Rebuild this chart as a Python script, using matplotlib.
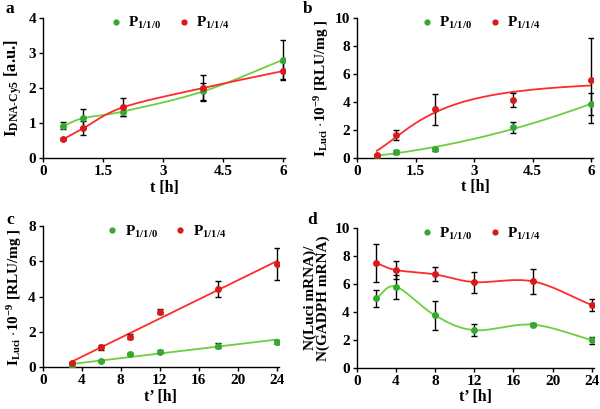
import numpy as np
import matplotlib
matplotlib.use("Agg")
import matplotlib.pyplot as plt

# ── data ──────────────────────────────────────────────────────
t_a = [0.5, 1, 2, 4, 6]
a_p0 = [0.92, 1.14, 1.33, 1.90, 2.80]
a_p0_err = [0.10, 0.25, 0.12, 0.24, 0.56]
a_p4 = [0.54, 0.85, 1.45, 2.00, 2.48]
a_p4_err = [0.03, 0.20, 0.25, 0.36, 0.25]

t_b = [0.5, 1, 2, 4, 6]
b_p0 = [0.15, 0.43, 0.62, 2.17, 3.83]
b_p0_err = [0.05, 0.15, 0.10, 0.40, 0.78]
b_p4 = [0.17, 1.64, 3.46, 4.12, 5.55]
b_p4_err = [0.05, 0.35, 1.10, 0.52, 3.03]

t_c = [3, 6, 9, 12, 18, 24]
c_p0 = [0.02, 0.34, 0.76, 0.89, 1.23, 1.44]
c_p0_err = [0.03, 0.05, 0.05, 0.10, 0.15, 0.12]
c_p4 = [0.23, 1.13, 1.74, 3.16, 4.44, 5.86]
c_p4_err = [0.05, 0.15, 0.15, 0.12, 0.45, 0.90]

t_d = [2, 4, 8, 12, 18, 24]
d_p0 = [4.98, 5.81, 3.76, 2.71, 3.10, 2.00]
d_p0_err = [0.60, 0.85, 1.05, 0.42, 0.10, 0.25]
d_p4 = [7.50, 7.00, 6.69, 6.14, 6.19, 4.50]
d_p4_err = [1.37, 0.67, 0.50, 0.75, 0.87, 0.45]

labels = [r"P$_{\mathregular{1/1/0}}$", r"P$_{\mathregular{1/1/4}}$"]

GREEN_M, GREEN_L = "#35a832", "#6ccf3c"
RED_M, RED_L = "#d81a1a", "#ff2a2a"

plt.rcParams["font.family"] = ["Liberation Serif", "DejaVu Serif"]
plt.rcParams["font.weight"] = "bold"
plt.rcParams["mathtext.fontset"] = "custom"
plt.rcParams["mathtext.rm"] = "Liberation Serif:bold"
plt.rcParams["mathtext.it"] = "Liberation Serif:bold"
plt.rcParams["mathtext.bf"] = "Liberation Serif:bold"


def smooth(x, y, n=40):
    # Catmull-Rom curve through the points (like a spreadsheet "smoothed line")
    x = np.asarray(x, float)
    y = np.asarray(y, float)
    px = np.concatenate([[2 * x[0] - x[1]], x, [2 * x[-1] - x[-2]]])
    py = np.concatenate([[2 * y[0] - y[1]], y, [2 * y[-1] - y[-2]]])
    xs, ys = [], []
    s = np.linspace(0, 1, n)
    for i in range(1, len(px) - 2):
        for p, out in ((px, xs), (py, ys)):
            p0, p1, p2, p3 = p[i - 1], p[i], p[i + 1], p[i + 2]
            out.append(0.5 * (2 * p1 + (-p0 + p2) * s
                              + (2 * p0 - 5 * p1 + 4 * p2 - p3) * s ** 2
                              + (-p0 + 3 * p1 - 3 * p2 + p3) * s ** 3))
    return np.concatenate(xs), np.concatenate(ys)


def fit(x, y, deg, n=200):
    c = np.polyfit(x, y, deg)
    xs = np.linspace(min(x), max(x), n)
    return xs, np.polyval(c, xs)


def hill_fit(x, y, n=200):
    # least-squares Hill curve y = V x^h / (K^h + x^h), grid over K and h
    x = np.asarray(x, float)
    y = np.asarray(y, float)
    best = None
    for K in np.linspace(0.5, 6, 111):
        for h in np.linspace(0.8, 4, 65):
            g = x ** h / (K ** h + x ** h)
            V = (g @ y) / (g @ g)
            r = np.sum((V * g - y) ** 2)
            if best is None or r < best[0]:
                best = (r, V, K, h)
    _, V, K, h = best
    xs = np.linspace(x.min(), x.max(), n)
    return xs, V * xs ** h / (K ** h + xs ** h)


def style(ax, xlim, xticks, ylim, yticks, xlabel, ylabel, ylsize=11):
    ax.set_xlim(*xlim)
    ax.set_ylim(*ylim)
    ax.set_xticks(xticks)
    ax.set_yticks(yticks)
    for s in ("top", "right"):
        ax.spines[s].set_visible(False)
    for s in ("left", "bottom"):
        ax.spines[s].set_linewidth(1.0)
    ax.tick_params(direction="out", length=3, width=1, labelsize=11, pad=2)
    ax.set_xlabel(xlabel, fontsize=11.5, fontweight="bold", labelpad=1)
    ax.set_ylabel(ylabel, fontsize=ylsize, fontweight="bold", labelpad=3)
    ax.legend(loc="upper center", bbox_to_anchor=(0.52, 1.115), ncol=2,
              frameon=False, fontsize=11, handlelength=1.0,
              handletextpad=0.3, columnspacing=1.0, markerscale=0.9)


def points(ax, x, y, err, mc, label):
    ax.errorbar(x, y, yerr=err, fmt="none", ecolor="black", elinewidth=1,
                capsize=2, capthick=1, zorder=3)
    ax.plot(x, y, "o", color=mc, markersize=5, markeredgewidth=0,
            zorder=4, label=label)


fig = plt.figure(figsize=(6, 4.09), dpi=100)
ax_a = fig.add_axes([0.072, 0.613, 0.403, 0.344])
ax_b = fig.add_axes([0.5955, 0.614, 0.393, 0.343])
ax_c = fig.add_axes([0.0712, 0.102, 0.393, 0.345])
ax_d = fig.add_axes([0.5945, 0.100, 0.395, 0.3425])

# a
ax_a.plot(*smooth(t_a, a_p0), color=GREEN_L, lw=1.3, zorder=2)
ax_a.plot(*smooth(t_a, a_p4), color=RED_L, lw=1.3, zorder=2)
points(ax_a, t_a, a_p0, a_p0_err, GREEN_M, labels[0])
points(ax_a, t_a, a_p4, a_p4_err, RED_M, labels[1])
style(ax_a, (0, 6.05), [0, 1.5, 3, 4.5, 6], (0, 4), [0, 1, 2, 3, 4],
      "t [h]", r"I$_{\mathregular{DNA\text{-}Cy5}}$ [a.u.]", 12)
ax_a.set_xticklabels(["0", "1.5", "3", "4.5", "6"])

# b
ax_b.plot(*fit(t_b, b_p0, 2), color=GREEN_L, lw=1.3, zorder=2)
ax_b.plot(*hill_fit(t_b, b_p4), color=RED_L, lw=1.3, zorder=2)
points(ax_b, t_b, b_p0, b_p0_err, GREEN_M, labels[0])
points(ax_b, t_b, b_p4, b_p4_err, RED_M, labels[1])
style(ax_b, (0, 6.05), [0, 1.5, 3, 4.5, 6], (0, 10), [0, 2, 4, 6, 8, 10],
      "t [h]", r"I$_{\mathregular{Luci}}$ $\cdot$10$^{\mathregular{-9}}$ [RLU/mg ]")
ax_b.set_xticklabels(["0", "1.5", "3", "4.5", "6"])

# c
ax_c.plot(*fit(t_c, c_p0, 1), color=GREEN_L, lw=1.3, zorder=2)
ax_c.plot(*fit(t_c, c_p4, 1), color=RED_L, lw=1.3, zorder=2)
points(ax_c, t_c, c_p0, c_p0_err, GREEN_M, labels[0])
points(ax_c, t_c, c_p4, c_p4_err, RED_M, labels[1])
style(ax_c, (0, 24.2), [0, 4, 8, 12, 16, 20, 24], (0, 8), [0, 2, 4, 6, 8],
      "t\u2019 [h]", r"I$_{\mathregular{Luci}}$ $\cdot$10$^{\mathregular{-9}}$ [RLU/mg ]")

# d
ax_d.plot(*smooth(t_d, d_p0), color=GREEN_L, lw=1.3, zorder=2)
ax_d.plot(*smooth(t_d, d_p4), color=RED_L, lw=1.3, zorder=2)
points(ax_d, t_d, d_p0, d_p0_err, GREEN_M, labels[0])
points(ax_d, t_d, d_p4, d_p4_err, RED_M, labels[1])
style(ax_d, (0, 24.2), [0, 4, 8, 12, 16, 20, 24], (0, 10), [0, 2, 4, 6, 8, 10],
      "t\u2019 [h]", "N(Luci mRNA)/\nN(GADPH mRNA)")
ax_d.yaxis.label.set_linespacing(0.95)

for letter, x, y in (("a", 0.01, 0.998), ("b", 0.505, 0.998),
                     ("c", 0.01, 0.482), ("d", 0.512, 0.482)):
    fig.text(x, y, letter, fontsize=12.5, fontweight="bold", va="top")

fig.savefig("out.png", dpi=100)
